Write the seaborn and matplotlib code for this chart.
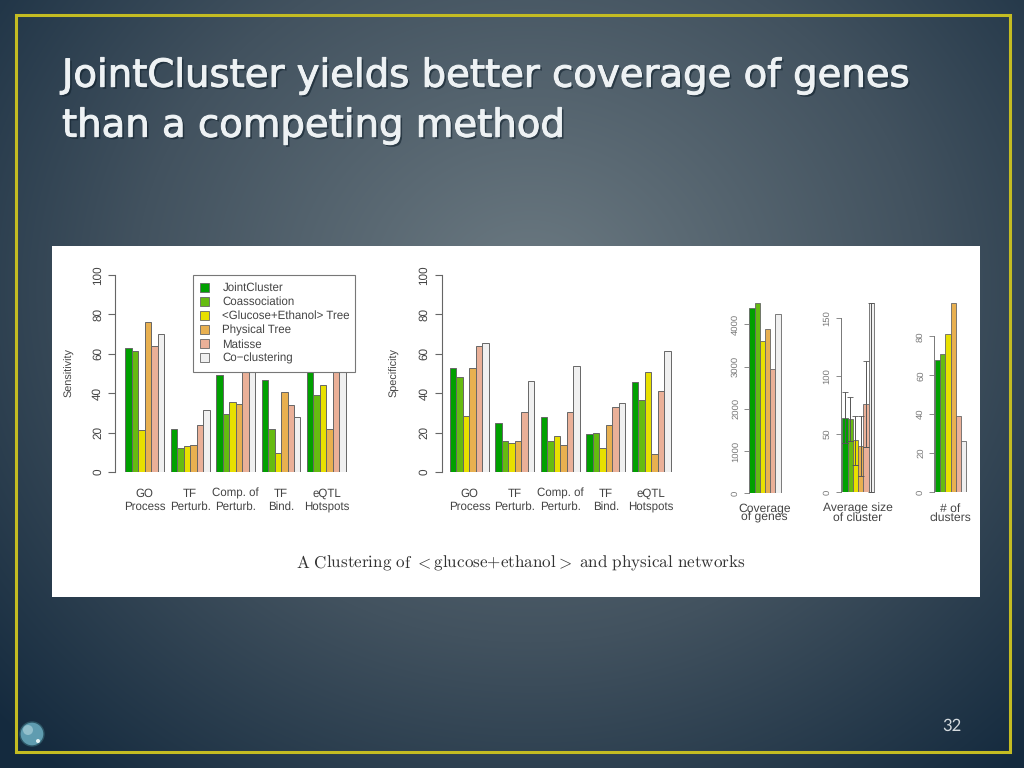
import numpy as np
import pandas as pd
import matplotlib
matplotlib.use("Agg")
import matplotlib.pyplot as plt
import matplotlib.patheffects as pe
from matplotlib.patches import Patch, Rectangle, Circle
import seaborn as sns

methods = ["JointCluster", "Coassociation", "<Glucose+Ethanol> Tree", "Physical Tree", "Matisse", "Co\u2212clustering"]
colors = ["#00a000", "#66bb11", "#e8e000", "#e8b050", "#eab098", "#f0f0f0"]
groups = ["GO\nProcess", "TF\nPerturb.", "Comp. of\nPerturb.", "TF\nBind.", "eQTL\nHotspots"]

sensitivity = [
    [63, 61.5, 21.5, 76, 64, 70],
    [22, 12, 13, 13.7, 24, 31.5],
    [49, 29.5, 35.3, 34.7, 55, 56],
    [46.5, 22, 9.7, 40.7, 34, 28],
    [53.5, 39, 44, 22, 53.5, 56],
]
specificity = [
    [53, 48, 28.3, 52.7, 64, 65.3],
    [25, 15.5, 14.7, 15.5, 30.7, 46],
    [28, 15.5, 18.3, 13.5, 30.7, 54],
    [19.2, 19.7, 12, 23.7, 33.2, 34.8],
    [45.8, 36.7, 50.7, 9, 41, 61.3],
]
coverage = [4390, 4500, 3600, 3880, 2950, 4240]
avg_size = [64, 63, 45, 40, 76, 163]
size_low = [42, 44, 23, 14, 39, 0]
size_high = [86, 82, 66, 66, 113, 163]
n_clusters = [68, 71, 81, 97, 39, 26]

W, H = 1024, 768
INK = "#444444"
TITLE = "#eef2f4"
sns.set_style("white")
plt.rcParams["font.family"] = ["Liberation Sans", "DejaVu Sans"]
plt.rcParams["text.hinting"] = "no_hinting"
plt.rcParams["mathtext.fontset"] = "cm"

fig = plt.figure(figsize=(W / 100, H / 100), dpi=100)


def px_axes(left, top, right, bottom, **kw):
    return fig.add_axes([left / W, 1 - bottom / H, (right - left) / W, (bottom - top) / H], **kw)


# slide background
bg = px_axes(0, 0, W, H)
yy, xx = np.mgrid[0:H, 0:W]
r = np.clip(np.hypot((xx - 530) / 720, (yy - 290) / 640), 0, 1)
stops = [0, 0.55, 1]
shades = np.array([[0x6c, 0x7a, 0x82], [0x42, 0x52, 0x5f], [0x14, 0x2a, 0x3e]]) / 255
grad = np.dstack([np.interp(r, stops, shades[:, i]) for i in range(3)])
bg.imshow(grad, aspect="auto", extent=(0, W, H, 0))
bg.set_xlim(0, W)
bg.set_ylim(H, 0)
bg.axis("off")
bg.add_patch(Rectangle((16, 15), 994, 737, fill=False, ec="#c4bc22", lw=2.2))
bg.add_patch(Rectangle((52, 246), 928, 351, fc="white", ec="none"))
bg.add_patch(Circle((32, 734), 12, fc="#5f9cb0", ec="#2c5565", lw=1))
bg.add_patch(Circle((28, 730), 5, fc="#a9cfd8", ec="none", alpha=0.7))
bg.add_patch(Circle((38, 741), 2, fc="#e4f3f5", ec="none"))

for line, y in [("JointCluster yields better coverage of genes", 86.7), ("than a competing method", 136.7)]:
    t = bg.text(62, y, line, color=TITLE, fontsize=27.8, family="DejaVu Sans", va="baseline", ha="left")
    t.set_path_effects([
        pe.SimplePatchShadow(offset=(1.5, -1.5), shadow_rgbFace="#10202c", alpha=0.6),
        pe.Stroke(linewidth=0.7, foreground=TITLE),
        pe.Normal(),
    ])
bg.text(952, 726, "32", color="#d5dbdf", fontsize=12, ha="center", va="center", family="Lato")
bg.text(520.5, 563, r"$\mathrm{A\ Clustering\ of\ {<}glucose{+}ethanol{>}\ and\ physical\ networks}$",
        color="#333333", fontsize=12.3, ha="center", va="center")


def group_panel(values, x0, axis_x, ylabel, ylabel_x):
    period = 45.42
    unit = period / 7
    rows = [(g, m, v) for g, row in zip(groups, values) for m, v in zip(methods, row)]
    df = pd.DataFrame(rows, columns=["group", "method", "value"])
    ax = px_axes(axis_x, 275, axis_x + 240, 472)
    ax.patch.set_alpha(0)
    sns.barplot(data=df, x="group", y="value", hue="method", hue_order=methods, palette=colors,
                width=6 / 7, gap=0, saturation=1, dodge=True, legend=False,
                edgecolor="#666666", linewidth=0.7, ax=ax)
    centre = x0 + 3 * unit
    ax.set_xlim((axis_x - centre) / period, (axis_x + 240 - centre) / period)
    ax.set_ylim(0, 100)
    ax.set_yticks([0, 20, 40, 60, 80, 100])
    ax.set_yticklabels(["0", "20", "40", "60", "80", "100"], rotation=90, va="center", fontsize=8.5, color=INK)
    ax.tick_params(axis="y", left=True, length=5, width=0.8, color="#666666", pad=3.5)
    ax.tick_params(axis="x", bottom=False, pad=8, labelsize=8.3, labelcolor=INK)
    for s in ["top", "right", "bottom"]:
        ax.spines[s].set_visible(False)
    ax.spines["left"].set_color("#666666")
    ax.spines["left"].set_linewidth(0.8)
    ax.set_xlabel("")
    ax.set_ylabel("")
    bg.text(ylabel_x, 373, ylabel, rotation=90, ha="center", va="center", fontsize=7.8, color=INK)
    return ax


ax1 = group_panel(sensitivity, 125.3, 115.3, "Sensitivity", 69)
ax2 = group_panel(specificity, 450, 441.5, "Specificity", 394)

handles = [Patch(fc=c, ec="#666666", lw=0.6) for c in colors]
leg = ax1.legend(handles, methods, loc="upper left",
                 bbox_to_anchor=((193 - 115.3) / 240, 1.0, 162 / 240, 0), mode="expand",
                 borderaxespad=0, frameon=True, fancybox=False, framealpha=1, edgecolor="#777777",
                 fontsize=8.3, labelspacing=0.25, handlelength=0.75, handleheight=0.8, handletextpad=1.15,
                 borderpad=0.65, labelcolor=INK)
leg.get_frame().set_linewidth(0.8)
leg.set_zorder(10)


def small_panel(values, left, axis_x, bottom, top_px, unit_px, ymax, ticks, label, label_x):
    ax = px_axes(axis_x, top_px, axis_x + 42, bottom)
    ax.patch.set_alpha(0)
    df = pd.DataFrame({"method": methods, "value": values})
    sns.barplot(data=df, x="method", y="value", hue="method", hue_order=methods, palette=colors,
                order=methods, width=1, saturation=1, legend=False,
                edgecolor="#666666", linewidth=0.6, ax=ax)
    ax.set_xlim((axis_x - left) / unit_px - 0.5, (axis_x + 42 - left) / unit_px - 0.5)
    ax.set_ylim(0, ymax)
    ax.set_yticks(ticks)
    ax.set_yticklabels([str(t) for t in ticks], rotation=90, va="center", fontsize=6.8, color="#777777")
    ax.tick_params(axis="y", left=True, length=3.6, width=0.6, color="#777777", pad=3)
    ax.set_xticks([])
    for s in ["top", "right", "bottom"]:
        ax.spines[s].set_visible(False)
    ax.spines["left"].set_color("#777777")
    ax.spines["left"].set_linewidth(0.7)
    ax.spines["left"].set_bounds(0, ticks[-1])
    ax.set_xlabel("")
    ax.set_ylabel("")
    bg.text(label_x, 513, label, ha="center", va="center", fontsize=8.7, color=INK, linespacing=0.75)
    return ax


small_panel(coverage, 749.3, 749, 493.3, 303.3, 5.23, 4500, [0, 1000, 2000, 3000, 4000], "Coverage\nof genes", 764.5)
ax4 = small_panel(avg_size, 842.3, 840.7, 492, 303.3, 5.28, 163, [0, 50, 100, 150], "Average size\nof cluster", 858)
for i, (lo, hi) in enumerate(zip(size_low, size_high)):
    ax4.errorbar(i, lo, yerr=[[0], [hi - lo]], color="#555555", lw=0.7, capsize=2.4, capthick=0.6,
                 zorder=5, clip_on=False)
    ax4.plot([i - 0.5, i + 0.5], [lo, lo], color="#555555", lw=0.6, zorder=5, clip_on=False)
small_panel(n_clusters, 935, 934, 492, 303.3, 5.2, 97, [0, 20, 40, 60, 80], "# of\nclusters", 950)

fig.savefig("out.png", dpi=100)
